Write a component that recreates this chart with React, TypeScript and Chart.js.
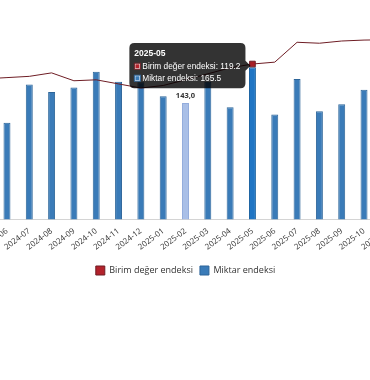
import React, { useEffect, useRef } from "react";
import { Chart, registerables } from "chart.js";

Chart.register(...registerables);

// Categories (months)
const months = [
  "2024-05", "2024-06", "2024-07", "2024-08", "2024-09", "2024-10", "2024-11",
  "2024-12", "2025-01", "2025-02", "2025-03", "2025-04", "2025-05", "2025-06",
  "2025-07", "2025-08", "2025-09", "2025-10", "2025-11",
];

// Birim değer endeksi (line, right hidden axis)
const unitValueIndex = [
  114.5, 114.9, 115.3, 116.4, 113.9, 114.2, 112.9,
  111.6, 112.4, 114.2, 116.1, 118.0, 119.2, 119.8,
  126.1, 125.8, 126.5, 126.8, 126.9,
];

// Miktar endeksi (bars)
const quantityIndex: (number | null)[] = [
  null, 130.6, 154.6, 150.0, 152.7, 162.7, 156.4,
  156.0, 147.3, 143.0, 156.4, 140.4, 165.5, 135.8,
  158.1, 137.9, 142.3, 151.4, null,
];

const highlightMonth = "2025-02";
const activeMonth = "2025-05";

const LINE_LABEL = "Birim değer endeksi";
const BAR_LABEL = "Miktar endeksi";

const UI_FONT = "'Open Sans', 'Noto Sans', sans-serif";
const TIP_FONT = "'Liberation Sans', Arial, sans-serif";

const valueLabelPlugin = {
  id: "valueLabel",
  afterDatasetsDraw(chart: any) {
    const i = months.indexOf(highlightMonth);
    const meta = chart.getDatasetMeta(1);
    const el = meta.data[i];
    const v = quantityIndex[i];
    if (!el || v == null) return;
    const ctx = chart.ctx;
    ctx.save();
    ctx.font = `bold 7.5px ${UI_FONT}`;
    ctx.fillStyle = "#333";
    ctx.textAlign = "center";
    ctx.textBaseline = "bottom";
    ctx.fillText(v.toFixed(1).replace(".", ","), el.x, el.y - 3);
    ctx.restore();
  },
};

export default function App() {
  const canvasRef = useRef<HTMLCanvasElement | null>(null);

  useEffect(() => {
    if (!canvasRef.current) return;
    const hi = months.indexOf(highlightMonth);
    const chart = new Chart(canvasRef.current, {
      type: "bar",
      data: {
        labels: months,
        datasets: [
          {
            type: "line",
            label: LINE_LABEL,
            data: unitValueIndex,
            yAxisID: "y1",
            borderColor: "#6e1d24",
            backgroundColor: "#b3222b",
            borderWidth: 1,
            pointRadius: 0,
            pointHoverRadius: 4,
            pointStyle: "rect",
            pointHoverBackgroundColor: "#a81f27",
            pointHoverBorderColor: "#6e1d24",
            pointHoverBorderWidth: 1,
            tension: 0,
            order: 0,
          } as any,
          {
            type: "bar",
            label: BAR_LABEL,
            data: quantityIndex,
            yAxisID: "y",
            backgroundColor: (c: any) =>
              c.dataIndex === hi ? "#a9bfe7" : "#3a7bb8",
            borderColor: (c: any) =>
              c.dataIndex === hi ? "#93acdc" : "#2d6599",
            hoverBackgroundColor: "#1f75c4",
            hoverBorderColor: "#17609f",
            borderWidth: 1,
            categoryPercentage: 0.8,
            barPercentage: 0.39,
            order: 1,
          } as any,
        ],
      },
      options: {
        animation: false,
        responsive: true,
        maintainAspectRatio: false,
        locale: "en-US",
        layout: { padding: { left: 29.5, right: 30.5, top: 12.3, bottom: 4 } },
        interaction: { mode: "index", intersect: false },
        scales: {
          x: {
            grid: { display: false, drawTicks: false },
            border: { display: true, color: "#d4d4d4" },
            ticks: {
              autoSkip: false,
              minRotation: 37,
              maxRotation: 37,
              padding: 7,
              color: "#333",
              font: { family: UI_FONT, size: 8 },
            },
          },
          y: { display: false, min: 70, max: 200 },
          y1: { display: false, min: 70, max: 135.6 },
        },
        plugins: {
          legend: {
            position: "bottom",
            labels: {
              boxWidth: 9,
              boxHeight: 9,
              padding: 7,
              color: "#333",
              font: { family: UI_FONT, size: 9 },
            },
          },
          tooltip: {
            mode: "index",
            intersect: false,
            backgroundColor: "rgba(0,0,0,0.8)",
            titleFont: { family: TIP_FONT, size: 8.5, weight: "bold" },
            bodyFont: { family: TIP_FONT, size: 8.3 },
            padding: 5,
            titleMarginBottom: 3,
            bodySpacing: 2,
            boxWidth: 6,
            boxHeight: 6,
            caretSize: 5,
            caretPadding: 2,
            cornerRadius: 5,
            callbacks: {
              label: (c: any) => `${c.dataset.label}: ${c.parsed.y.toFixed(1)}`,
            },
          },
        },
      },
      plugins: [valueLabelPlugin],
    });

    const ai = months.indexOf(activeMonth);
    const active = [
      { datasetIndex: 0, index: ai },
      { datasetIndex: 1, index: ai },
    ];
    chart.setActiveElements(active);
    const pt = chart.getDatasetMeta(0).data[ai] as any;
    chart.tooltip?.setActiveElements(active, { x: pt.x, y: pt.y });
    chart.update();

    return () => chart.destroy();
  }, []);

  return (
    <div
      style={{
        position: "fixed",
        left: 0,
        top: 0,
        width: 370,
        height: 380,
        overflow: "hidden",
        background: "#fff",
      }}
    >
      <div
        style={{ position: "absolute", left: -56, top: 0, width: 484, height: 289 }}
      >
        <canvas ref={canvasRef} />
      </div>
    </div>
  );
}
